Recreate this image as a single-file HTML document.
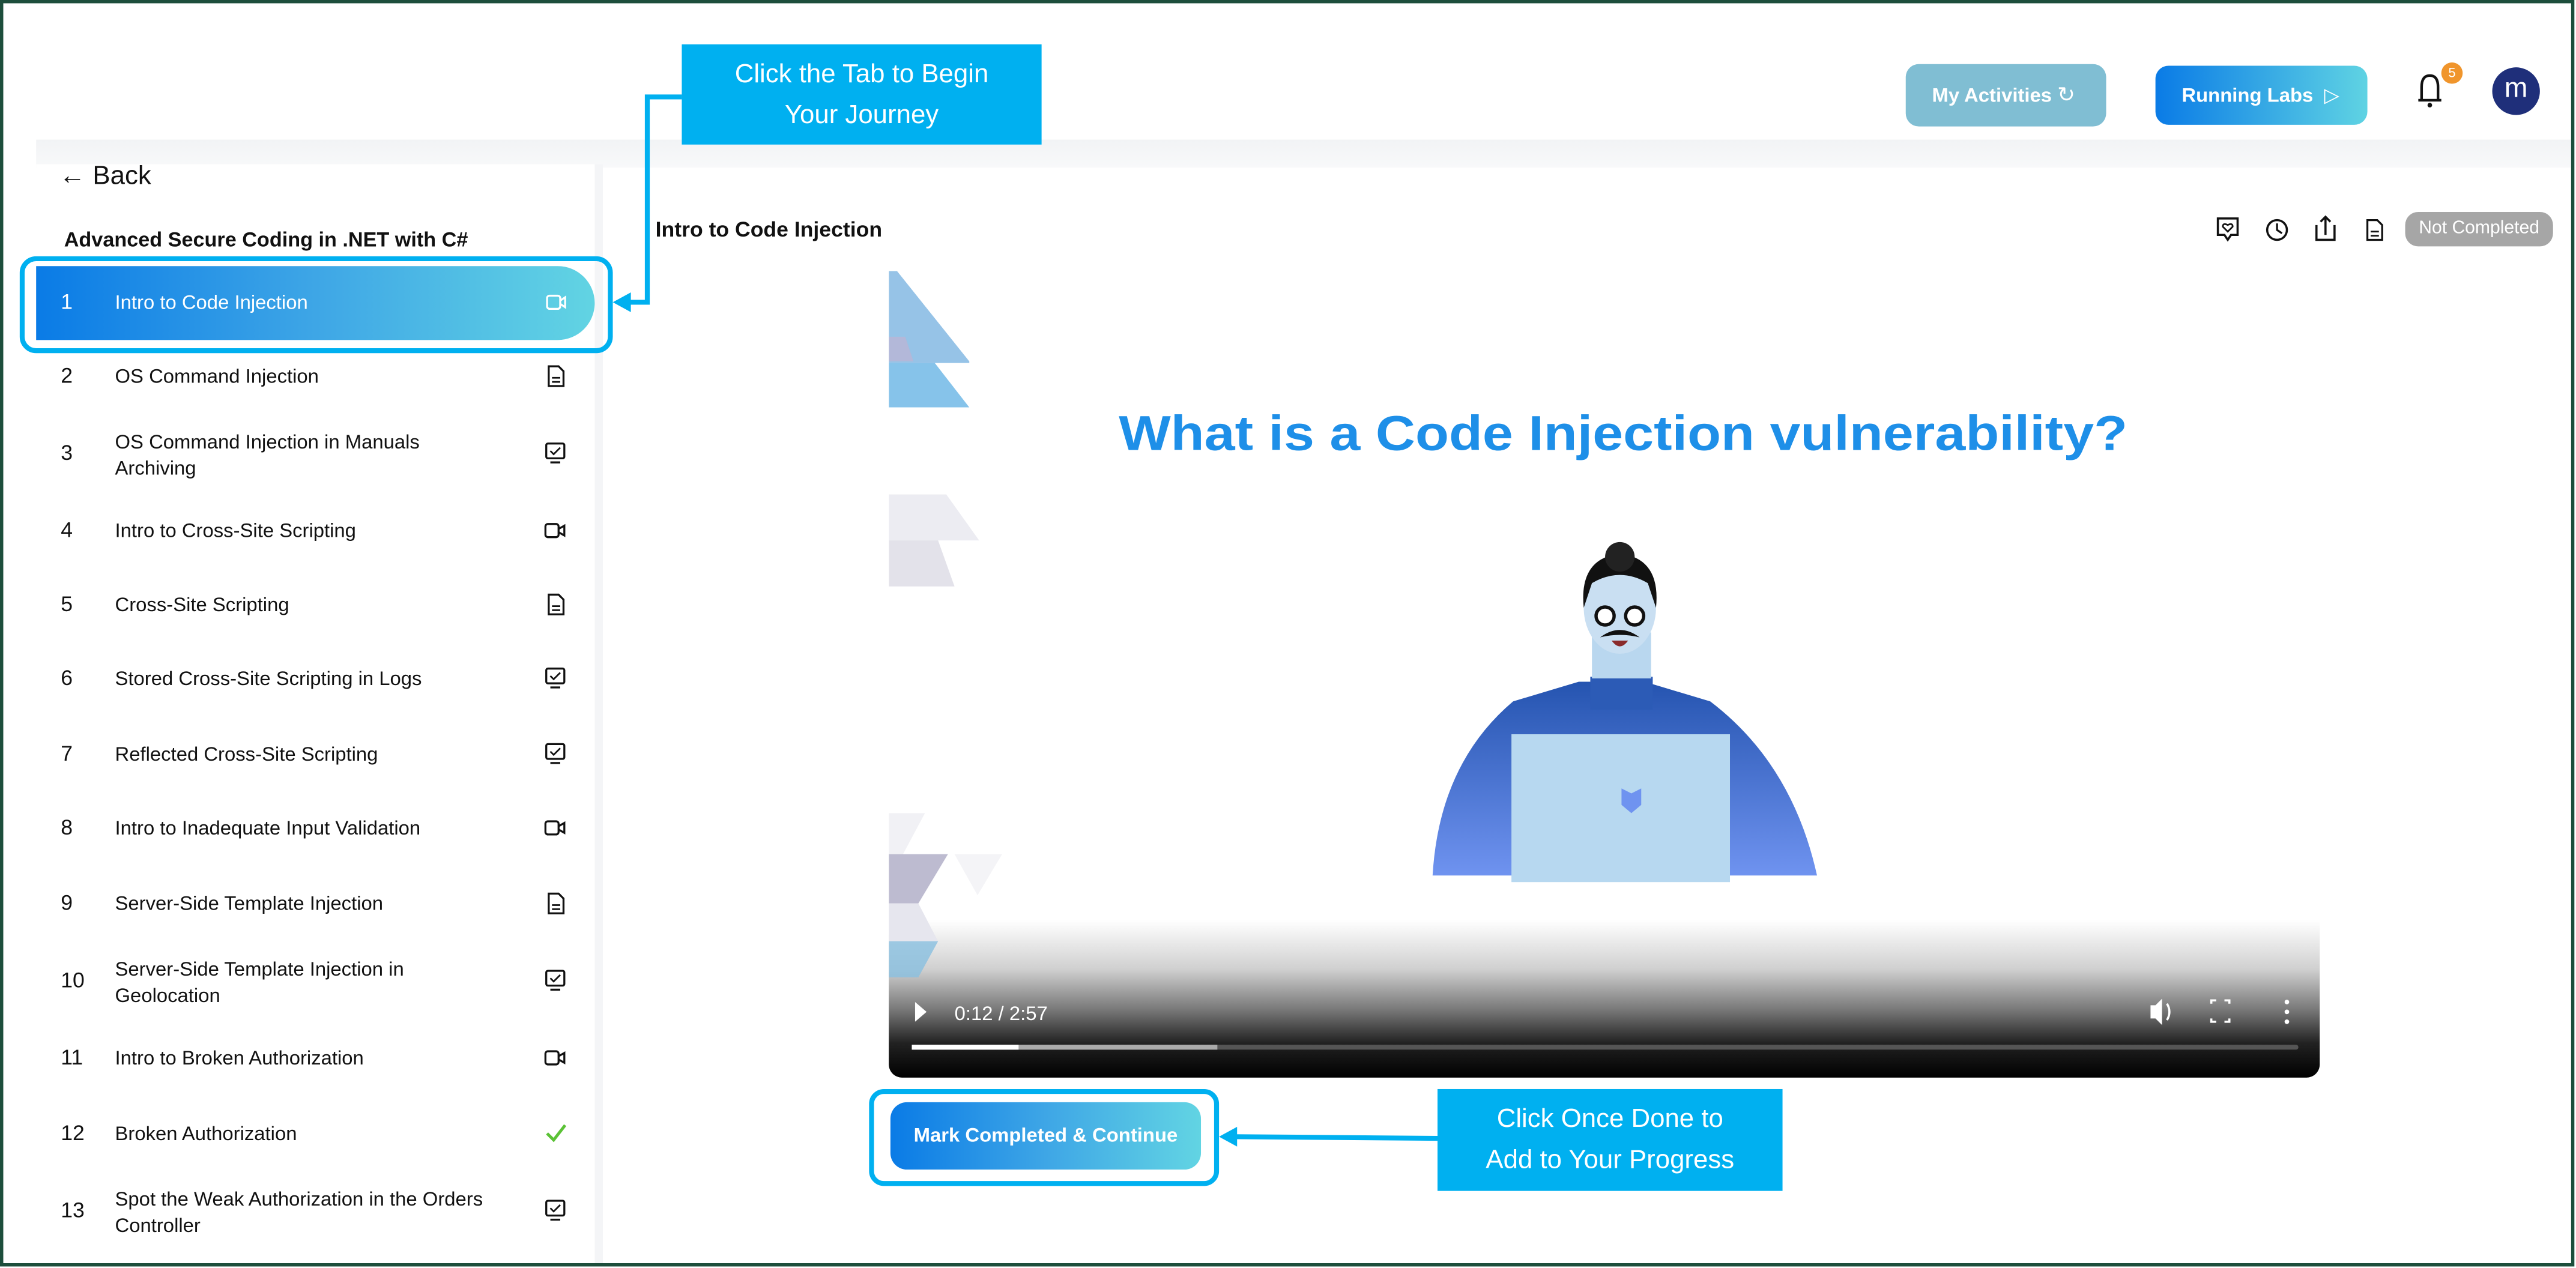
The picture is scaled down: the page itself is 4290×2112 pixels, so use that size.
<!DOCTYPE html>
<html><head><meta charset="utf-8"><style>
html,body{margin:0;padding:0;background:#fff;width:4290px;height:2112px;overflow:hidden}
#w{position:absolute;left:0;top:0;width:1568px;height:772px;transform:scale(2.736);transform-origin:0 0;font-family:"Liberation Sans",sans-serif;background:#fff}
.a{position:absolute}
.num{position:absolute;left:37px;font-size:13px;color:#111}
.it{position:absolute;left:70px;font-size:12px;color:#111;line-height:16px;width:226px}
.call{position:absolute;background:#00b0f0;color:#fff;font-size:16px;text-align:center;line-height:25px;display:flex;align-items:center;justify-content:center}
</style></head><body><div id="w">
<div class="a" style="left:22px;top:85px;width:1544px;height:17px;background:linear-gradient(#f2f3f5,#f8f9fa)"></div>
<div class="a" style="left:22px;top:100px;width:340px;height:670px;background:#fff"></div>
<div class="a" style="left:362px;top:100px;width:5px;height:670px;background:#f4f5f7"></div>
<div class="a" style="left:1160px;top:39px;width:122px;height:38px;border-radius:8px;background:#80bed3;color:#fff;font-weight:bold;font-size:12px;line-height:38px;text-indent:16px">My Activities <span style="font-weight:normal;font-size:13px">&#x21BB;</span></div>
<div class="a" style="left:1312px;top:40px;width:129px;height:36px;border-radius:8px;background:linear-gradient(90deg,#0a7be6,#5fd3e3);color:#fff;font-weight:bold;font-size:12px;line-height:36px;text-indent:16px">Running Labs &nbsp;<span style="font-weight:normal">&#x25B7;</span></div>
<svg class="a" style="left:1468px;top:42px" width="26" height="26" viewBox="0 0 26 26"><path d="M6 19 L6 11 Q6 4 11 4 Q16 4 16 11 L16 19 Z M4 19 H18" fill="none" stroke="#111" stroke-width="1.6"/><circle cx="11" cy="22" r="1.4" fill="#111"/></svg>
<div class="a" style="left:1486px;top:38px;width:13px;height:13px;border-radius:50%;background:#f0952c;color:#fff;font-size:8px;text-align:center;line-height:13px">5</div>
<div class="a" style="left:1517px;top:41px;width:29px;height:29px;border-radius:50%;background:#1f2f7a;color:#fff;font-size:17px;text-align:center;line-height:26px">m</div>
<div class="a" style="left:36px;top:99px;font-size:16px;color:#111">&#x2190; Back</div>
<div class="a" style="left:39px;top:139px;font-size:12.5px;font-weight:bold;color:#111">Advanced Secure Coding in .NET with C#</div>
<div class="a" style="left:22px;top:162px;width:340px;height:45px;border-radius:0 23px 23px 0;background:linear-gradient(90deg,#0a7be6,#3ea6e6 50%,#62d4e3)"></div>
<div class="a" style="left:12px;top:156px;width:355px;height:53px;border:3px solid #00b0f0;border-radius:10px"></div>
<div class="num" style="top:176px;color:#fff">1</div><div class="it" style="top:176px;color:#fff">Intro to Code Injection</div>
<svg class="a" style="left:332px;top:178px" width="14" height="12"><rect x="1" y="2" width="8" height="8" rx="1.5" fill="none" stroke="#fff" stroke-width="1.2"/><path d="M9 5 L12 3 V9 L9 7" fill="none" stroke="#fff" stroke-width="1.2"/></svg>
<div class="num" style="top:221px">2</div><div class="it" style="top:221px">OS Command Injection</div>
<div class="num" style="top:268px">3</div><div class="it" style="top:261px">OS Command Injection in Manuals Archiving</div>
<div class="num" style="top:315px">4</div><div class="it" style="top:315px">Intro to Cross-Site Scripting</div>
<div class="num" style="top:360px">5</div><div class="it" style="top:360px">Cross-Site Scripting</div>
<div class="num" style="top:405px">6</div><div class="it" style="top:405px">Stored Cross-Site Scripting in Logs</div>
<div class="num" style="top:451px">7</div><div class="it" style="top:451px">Reflected Cross-Site Scripting</div>
<div class="num" style="top:496px">8</div><div class="it" style="top:496px">Intro to Inadequate Input Validation</div>
<div class="num" style="top:542px">9</div><div class="it" style="top:542px">Server-Side Template Injection</div>
<div class="num" style="top:589px">10</div><div class="it" style="top:582px">Server-Side Template Injection in Geolocation</div>
<div class="num" style="top:636px">11</div><div class="it" style="top:636px">Intro to Broken Authorization</div>
<div class="num" style="top:682px">12</div><div class="it" style="top:682px">Broken Authorization</div>
<div class="num" style="top:729px">13</div><div class="it" style="top:722px">Spot the Weak Authorization in the Orders Controller</div>
<svg class="a" style="left:0;top:0" width="1568" height="772">
<defs>
<g id="doc"><path d="M-4 -6 H2 L5 -3 V6 H-4 Z" fill="none" stroke="#111" stroke-width="1.2"/><path d="M-2 1 H3 M-2 3.5 H3" stroke="#111" stroke-width="1"/></g>
<g id="mon"><rect x="-5.5" y="-6" width="11" height="9" rx="1" fill="none" stroke="#111" stroke-width="1.2"/><path d="M-3 -1.5 L-1 0.5 L3 -3.5" fill="none" stroke="#111" stroke-width="1"/><path d="M-3 5.5 H3" stroke="#111" stroke-width="1.2"/></g>
<g id="cam"><rect x="-6" y="-4" width="8" height="8" rx="1.5" fill="none" stroke="#111" stroke-width="1.2"/><path d="M2 -1 L5.5 -3 V3 L2 1" fill="none" stroke="#111" stroke-width="1.2"/></g>
</defs>
<use href="#doc" x="338" y="229"/><use href="#mon" x="338" y="276"/><use href="#cam" x="338" y="323"/>
<use href="#doc" x="338" y="368"/><use href="#mon" x="338" y="413"/><use href="#mon" x="338" y="459"/>
<use href="#cam" x="338" y="504"/><use href="#doc" x="338" y="550"/><use href="#mon" x="338" y="597"/>
<use href="#cam" x="338" y="644"/><path d="M333 690 L337 694 L344 685" fill="none" stroke="#5bc236" stroke-width="1.8"/><use href="#mon" x="338" y="737"/>
<use href="#doc" x="1445" y="140"/>
<circle cx="1386" cy="140" r="6" fill="none" stroke="#111" stroke-width="1.3"/><path d="M1386 136 V140 L1389 142" fill="none" stroke="#111" stroke-width="1.2"/>
<path d="M1410 137 V146 H1421 V137 M1415.5 143 V132 M1412.5 135 L1415.5 132 L1418.5 135" fill="none" stroke="#111" stroke-width="1.3"/>
<path d="M1350 133 H1362 V143 H1358 L1356 146 L1354 143 H1350 Z" fill="none" stroke="#111" stroke-width="1.3"/><path d="M1356 141 L1353 138 Q1353 135.5 1356 137 Q1359 135.5 1359 138 Z" fill="none" stroke="#111" stroke-width="1"/>
</svg>
<div class="a" style="left:399px;top:132px;font-size:13px;font-weight:bold;color:#111">Intro to Code Injection</div>
<div class="a" style="left:1464px;top:129px;width:90px;height:21px;border-radius:8px;background:#a6a6a6;color:#fff;font-size:11px;text-align:center;line-height:21px">Not Completed</div>
<div class="a" style="left:541px;top:165px;width:871px;height:491px;border-radius:0 0 8px 8px;overflow:hidden;background:linear-gradient(#fff 0,#fff 395px,#d0d0d0 425px,#777 450px,#222 470px,#000 491px)">
<svg class="a" style="left:0;top:0" width="871" height="491">
<defs><linearGradient id="bg" x1="0" y1="0" x2="0" y2="1"><stop offset="0" stop-color="#2554b0"/><stop offset="1" stop-color="#6f93f0"/></linearGradient></defs>
<polygon points="0,0 5,0 49,55 49,56 0,56" fill="#8bbde4" opacity=".9"/>
<polygon points="0,56 28,56 49,83 0,83" fill="#86c3ea"/>
<polygon points="0,40 10,40 15,55 0,55" fill="#c7b1d0" opacity=".6"/>
<polygon points="0,136 35,136 55,164 0,164" fill="#ececf2"/>
<polygon points="0,164 30,164 40,192 0,192" fill="#e3e2ea"/>
<polygon points="0,330 22,330 6,360 0,360" fill="#f1f1f5"/>
<polygon points="0,355 36,355 18,385 0,385" fill="#bdbbd0"/>
<polygon points="40,355 69,355 54,380" fill="#f4f4f7"/>
<polygon points="0,385 18,385 30,408 0,408" fill="#e6e6ee"/>
<polygon points="0,408 30,408 18,430 0,430" fill="#88bfe0" opacity=".8"/>
<text x="447" y="109" text-anchor="middle" font-family="Liberation Sans,sans-serif" font-weight="bold" font-size="30" fill="#1e8fe8" textLength="614" lengthAdjust="spacingAndGlyphs">What is a Code Injection vulnerability?</text>
<path d="M331 368 Q335 300 380 262 L420 250 H460 L500 262 Q550 300 565 368 Z" fill="url(#bg)"/>
<rect x="427" y="247" width="38" height="20" fill="#2c5bb6"/>
<rect x="379" y="282" width="133" height="90" fill="#b7d8f0"/>
<path d="M446 315 V325 L452 330 L458 325 V315 L452 318 Z" fill="#6f93f0"/>
<rect x="428" y="220" width="36" height="28" fill="#b9d7ef"/>
<ellipse cx="445" cy="205" rx="22" ry="28" fill="#c9dff2"/>
<path d="M423 205 Q420 175 445 172 Q470 175 467 205 L462 190 Q445 180 428 190 Z" fill="#111"/>
<circle cx="445" cy="174" r="9" fill="#222"/>
<circle cx="436" cy="210" r="5.5" fill="#fff" stroke="#111" stroke-width="2"/><circle cx="454" cy="210" r="5.5" fill="#fff" stroke="#111" stroke-width="2"/>
<path d="M433 223 Q445 214 457 223 Q445 220 433 223 Z" fill="#111"/>
<path d="M440 225 Q445 232 450 225 Z" fill="#8a2b2b"/>
<path d="M16 445 L23 451 L16 457 Z" fill="#fff"/>
<text x="40" y="456" font-family="Liberation Sans,sans-serif" font-size="12" fill="#fff">0:12 / 2:57</text>
<path d="M768 447 H771 L775 443 V459 L771 455 H768 Z" fill="#fff"/><path d="M778 446 Q781 451 778 456" stroke="#fff" fill="none" stroke-width="1.3"/>
<path d="M805 446 V444 H808 M813 444 H816 V446 M816 455 V457 H813 M808 457 H805 V455" stroke="#fff" fill="none" stroke-width="1.3"/>
<circle cx="851" cy="445" r="1.4" fill="#fff"/><circle cx="851" cy="451" r="1.4" fill="#fff"/><circle cx="851" cy="457" r="1.4" fill="#fff"/>
<rect x="14" y="471" width="844" height="3" rx="1.5" fill="#555"/>
<rect x="14" y="471" width="186" height="3" fill="#aaa"/>
<rect x="14" y="471" width="65" height="3" fill="#fff"/>
</svg>
</div>
<div class="a" style="left:542px;top:671px;width:189px;height:41px;border-radius:10px;background:linear-gradient(90deg,#0a7be6,#3ea6e6 50%,#62d4e3);color:#fff;font-weight:bold;font-size:12px;text-align:center;line-height:41px">Mark Completed &amp; Continue</div>
<div class="a" style="left:529px;top:663px;width:207px;height:53px;border:3px solid #00b0f0;border-radius:9px"></div>
<div class="call" style="left:415px;top:27px;width:219px;height:61px">Click the Tab to Begin<br>Your Journey</div>
<div class="call" style="left:875px;top:663px;width:210px;height:62px">Click Once Done to<br>Add to Your Progress</div>
<svg class="a" style="left:0;top:0" width="1568" height="772">
<path d="M415 59 H394 V184 H382" fill="none" stroke="#00b0f0" stroke-width="3"/>
<path d="M373 184 L384 178 L384 190 Z" fill="#00b0f0"/>
<path d="M875 693 L752 692" fill="none" stroke="#00b0f0" stroke-width="3"/>
<path d="M742 692 L753 686 L753 698 Z" fill="#00b0f0"/>
<rect x="1" y="1" width="1565" height="769" fill="none" stroke="#1d4e3c" stroke-width="2"/>
</svg>
</div></body></html>
